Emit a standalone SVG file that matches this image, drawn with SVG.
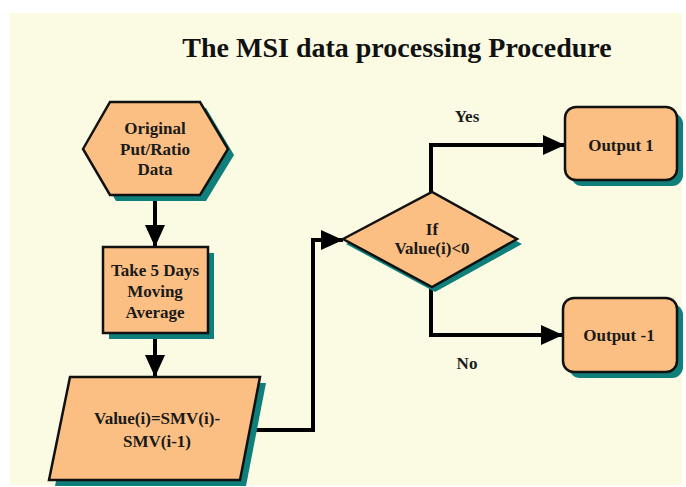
<svg xmlns="http://www.w3.org/2000/svg" width="686" height="487" viewBox="0 0 686 487">
<defs>
<style>
.shape{fill:#FBBF83;stroke:#111;stroke-width:2.5;stroke-linejoin:miter}
.shadow{fill:#0E7F7A;stroke:none}
.lbl{font-family:"Liberation Serif","Times New Roman",serif;font-weight:bold;font-size:17px;fill:#1a1a1a;text-anchor:middle}
.conn{fill:none;stroke:#000;stroke-width:4;stroke-linejoin:miter}
</style>
<marker id="ah" markerUnits="userSpaceOnUse" markerWidth="22" markerHeight="20" refX="22" refY="10" orient="auto">
<path d="M0,0 L22,10 L0,20 z" fill="#000"/>
</marker>
</defs>
<rect x="0" y="0" width="686" height="487" fill="#fff"/>
<rect x="10" y="13" width="672" height="472" fill="#FBFBE3"/>
<text x="397" y="57" font-family="'Liberation Serif','Times New Roman',serif" font-weight="bold" font-size="28" text-anchor="middle" fill="#111">The MSI data processing Procedure</text>

<g id="connectors">
<line class="conn" x1="155" y1="196" x2="155" y2="247" marker-end="url(#ah)"/>
<line class="conn" x1="155" y1="334" x2="155" y2="377" marker-end="url(#ah)"/>
<polyline class="conn" points="250,430 313,430 313,240 343,240" marker-end="url(#ah)"/>
<polyline class="conn" points="431,192 431,145 565,145" marker-end="url(#ah)"/>
<polyline class="conn" points="431,287 431,335 563,335" marker-end="url(#ah)"/>
<text class="lbl" x="467" y="122">Yes</text>
<text class="lbl" x="467" y="369">No</text>
</g>

<g id="original">
<polygon class="shadow" points="89,155 116,108 206,108 234,155 206,201 116,201"/>
<polygon class="shape" points="83,149 110,102 200,102 228,149 200,195 110,195"/>
<text class="lbl" x="155" y="134">Original</text>
<text class="lbl" x="155" y="155">Put/Ratio</text>
<text class="lbl" x="155" y="175">Data</text>
</g>

<g id="moving">
<rect class="shadow" x="109" y="253" width="105" height="86"/>
<rect class="shape" x="103" y="247" width="105" height="86"/>
<text class="lbl" x="155" y="276">Take 5 Days</text>
<text class="lbl" x="155" y="297">Moving</text>
<text class="lbl" x="155" y="318">Average</text>
</g>

<g id="value">
<polygon class="shadow" points="76,383 266,383 246,486 55,486"/>
<polygon class="shape" points="70,377 260,377 240,480 49,480"/>
<text class="lbl" x="157" y="424">Value(i)=SMV(i)-</text>
<text class="lbl" x="157" y="447">SMV(i-1)</text>
</g>

<g id="decision">
<polygon class="shadow" points="346,244 435,197 522,244 435,292"/>
<polygon class="shape" points="343,239 432,192 517,239 432,287"/>
<text class="lbl" x="432" y="235">If</text>
<text class="lbl" x="432" y="254">Value(i)&lt;0</text>
</g>

<g id="output1">
<rect class="shadow" x="571" y="113" width="112" height="73" rx="11"/>
<rect class="shape" x="565" y="107" width="112" height="73" rx="11"/>
<text class="lbl" x="621" y="151">Output 1</text>
</g>

<g id="outputm1">
<rect class="shadow" x="569" y="304" width="114" height="74" rx="11"/>
<rect class="shape" x="563" y="298" width="114" height="74" rx="11"/>
<text class="lbl" x="619" y="341">Output -1</text>
</g>
</svg>
